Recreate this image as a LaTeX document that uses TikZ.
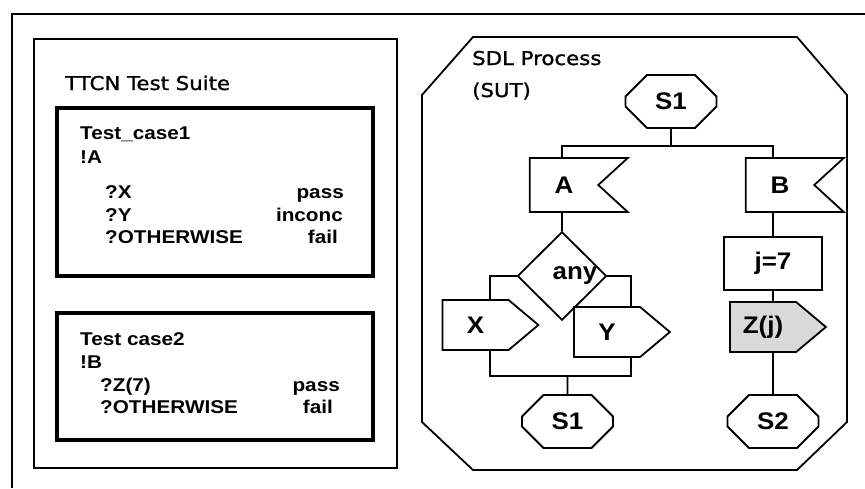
\documentclass[tikz,border=0pt]{standalone}
\usepackage{fontspec}
\setmainfont{Liberation Sans}
\newfontfamily\casefont{Liberation Sans}[FakeStretch=1.12, BoldFeatures={FakeStretch=1.12}]
\newfontfamily\sdlfont{Liberation Sans}[FakeStretch=1.08, BoldFeatures={FakeStretch=1.08}]
\newfontfamily\sketchfont{DejaVu Sans}[FakeStretch=1.12, FakeBold=1.2]
\usetikzlibrary{shapes.geometric,shapes.misc,shapes.symbols}

\begin{document}
\begin{tikzpicture}[x=1pt,y=-1pt,
  sdl/.style={draw, line width=1.8pt, inner sep=0pt, font=\sdlfont\bfseries\fontsize{24}{27}\selectfont},
  state/.style={sdl, chamfered rectangle, chamfered rectangle xsep=10pt, chamfered rectangle ysep=13pt, minimum width=91pt, minimum height=53pt},
  input/.style={sdl, signal, signal to=nowhere, signal from=east, signal pointer angle=85, minimum width=98pt, minimum height=54pt},
  output/.style={sdl, signal, signal to=east, signal pointer angle=80, minimum width=96pt, minimum height=50pt},
  decision/.style={sdl, diamond, minimum width=89pt, minimum height=74pt},
  task/.style={sdl, rectangle, minimum width=98pt, minimum height=53pt},
  casebox/.style={draw, line width=3.5pt},
  caseline/.style={anchor=base west, inner sep=0pt, font=\casefont\bfseries\fontsize{18.5}{21}\selectfont},
  verdict/.style={caseline, anchor=base east},
  title/.style={anchor=base west, inner sep=0pt, font=\sketchfont\fontsize{19}{22}\selectfont},
  link/.style={line width=1.8pt}]
\useasboundingbox (0,0) rectangle (865,488);
\draw[line width=1.8pt] (12,488) -- (12,14) -- (865,14);

\draw[line width=1.6pt] (34,39) rectangle (397,468);
\node[title] (ttcn) at (65,90) {TTCN Test Suite};
\draw[casebox] (57,108) rectangle (373,276);
\node[caseline] (tc1) at (80,139) {Test\_case1};
\node[caseline] (sendA) at (80,163) {!A};
\node[caseline] (rcvX) at (105,198) {?X};
\node[verdict] (passX) at (344,198) {pass};
\node[caseline] (rcvY) at (105,221) {?Y};
\node[verdict] (inconcY) at (343,221) {inconc};
\node[caseline] (rcvO1) at (105,243) {?OTHERWISE};
\node[verdict] (failO1) at (338,243) {fail};
\draw[casebox] (57,313) rectangle (373,440);
\node[caseline] (tc2) at (80,345) {Test case2};
\node[caseline] (sendB) at (80,368) {!B};
\node[caseline] (rcvZ) at (100,391) {?Z(7)};
\node[verdict] (passZ) at (340,391) {pass};
\node[caseline] (rcvO2) at (100,413) {?OTHERWISE};
\node[verdict] (failO2) at (333,413) {fail};

\draw[line width=1.8pt] (473,37) -- (797,37) -- (847,95) -- (847,422) -- (797,470) -- (473,470) -- (422,422) -- (422,95) -- cycle;
\node[title] (sdlp) at (472,65) {SDL Process};
\node[title] (sut) at (472,97) {(SUT)};

\node[state] (s1) at (671,101.5) {S1};
\node[input] (a) at (564,185) {A};
\node[input] (b) at (780,185) {B};
\node[decision] (dec) at (562,276) {\hspace*{26pt}any};
\node[output] (x) at (475.5,325) {X};
\node[output] (y) at (607,332) {Y};
\node[state] (s1b) at (567.5,421.5) {S1};
\node[task] (j) at (773,263.5) {j=7};
\node[output, fill=gray!30] (z) at (763,327) {Z(j)};
\node[state] (s2) at (773,421.5) {S2};

\coordinate (fork) at (671,146);
\coordinate (join) at (567.5,376);
\draw[link] (s1) -- (fork);
\draw[link] (dec.north |- a.north) |- (fork) -| (j.north |- b.north);
\draw[link] (a.south -| dec.north) -- (dec.north);
\draw[link] (dec.west) -| ([xshift=14.5pt]x.north);
\draw[link] (dec.east) -| ([xshift=24pt]y.north);
\draw[link] ([xshift=14.5pt]x.south) |- (join) -| ([xshift=24pt]y.south);
\draw[link] (join) -- (s1b);
\draw[link] (b.south -| j.north) -- (j.north);
\draw[link] (j.south) -- (j.south |- z.north);
\draw[link] (z.south -| s2.north) -- (s2.north);
\end{tikzpicture}
\end{document}
